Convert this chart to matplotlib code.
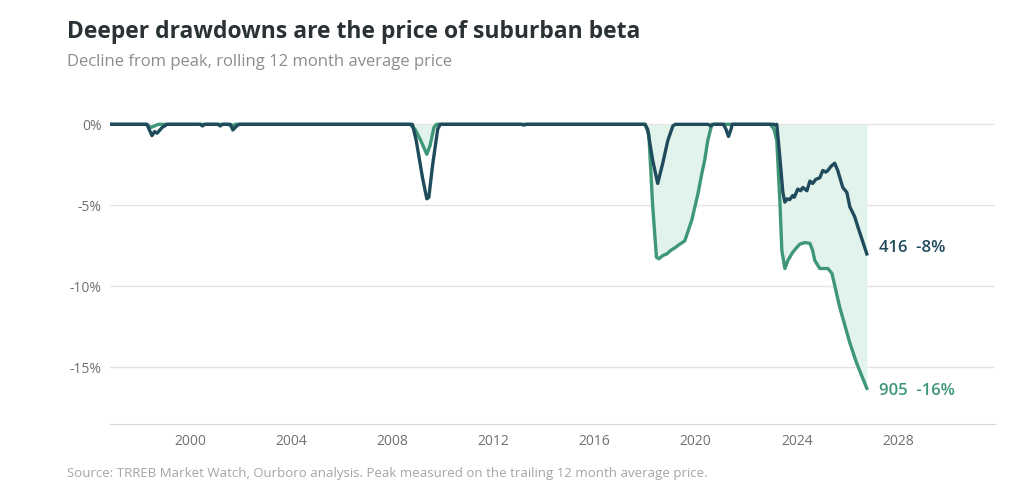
import matplotlib
matplotlib.use("Agg")
import matplotlib.pyplot as plt
from matplotlib.ticker import FuncFormatter

plt.rcParams['font.family'] = ['Open Sans', 'DejaVu Sans']

# drawdown from peak (%), 416 area code
dark_x = [1996.9, 1998.3, 1998.5, 1998.6, 1998.7, 1998.9, 1999.1, 2000.4, 2000.5, 2000.6,
          2001.1, 2001.2, 2001.3, 2001.6, 2001.7, 2001.85, 2001.95, 2008.8, 2008.95, 2009.2,
          2009.37, 2009.45, 2009.6, 2009.8, 2009.9, 2013.1, 2013.2, 2013.3, 2018.0, 2018.1,
          2018.3, 2018.5, 2018.7, 2018.9, 2019.1, 2019.2, 2020.5, 2020.6, 2020.7, 2021.1,
          2021.2, 2021.3, 2021.4, 2021.45, 2023.1, 2023.15, 2023.21, 2023.3, 2023.45, 2023.53,
          2023.62, 2023.72, 2023.84, 2023.9, 2024.04, 2024.15, 2024.24, 2024.4, 2024.52, 2024.63,
          2024.75, 2024.91, 2025.03, 2025.15, 2025.23, 2025.35, 2025.5, 2025.62, 2025.82, 2025.98,
          2026.1, 2026.29, 2026.41, 2026.77]
dark_y = [0, 0, -0.7, -0.45, -0.55, -0.2, 0, 0, -0.1, 0,
          0, -0.1, 0, 0, -0.35, -0.1, 0, 0, -1.0, -3.3,
          -4.6, -4.5, -2.5, -0.3, 0, 0, -0.05, 0, 0, -0.3,
          -2.2, -3.65, -2.4, -1.0, -0.1, 0, 0, -0.1, 0, 0,
          -0.3, -0.75, -0.3, 0, 0, -0.05, 0, -1.5, -4.2, -4.8,
          -4.6, -4.65, -4.4, -4.5, -4.0, -4.1, -3.9, -4.1, -3.5, -3.65,
          -3.4, -3.3, -2.85, -2.95, -2.85, -2.6, -2.4, -2.85, -3.9, -4.2,
          -5.1, -5.7, -6.3, -8.0]

# drawdown from peak (%), 905 area code
green_x = [1996.9, 1998.3, 1998.45, 1998.6, 1998.75, 2001.5, 2001.65, 2001.8, 2008.7, 2008.9,
           2009.1, 2009.37, 2009.5, 2009.65, 2009.75, 2018.0, 2018.15, 2018.3, 2018.45, 2018.55,
           2018.7, 2018.86, 2019.0, 2019.2, 2019.37, 2019.57, 2019.7, 2019.85, 2020.09, 2020.25,
           2020.36, 2020.48, 2020.64, 2022.95, 2023.1, 2023.21, 2023.33, 2023.41, 2023.53, 2023.65,
           2023.84, 2024.0, 2024.12, 2024.32, 2024.52, 2024.63, 2024.71, 2024.91, 2025.23, 2025.39,
           2025.7, 2026.1, 2026.37, 2026.77]
green_y = [0, 0, -0.2, -0.1, 0, 0, -0.1, 0, 0, -0.3,
           -0.9, -1.85, -1.3, -0.2, 0, 0, -0.6, -5.0, -8.2, -8.3,
           -8.1, -8.0, -7.8, -7.6, -7.4, -7.2, -6.6, -5.9, -4.3, -3.0,
           -2.2, -1.0, 0, 0, -0.3, -1.0, -4.7, -7.8, -8.9, -8.4,
           -7.9, -7.6, -7.4, -7.3, -7.35, -7.8, -8.4, -8.9, -8.9, -9.2,
           -11.3, -13.5, -14.75, -16.3]

yticks = [0, -5, -10, -15]
xticks = [2000, 2004, 2008, 2012, 2016, 2020, 2024, 2028]

dark_col = "#1f4b5c"
green_col = "#3e9877"
grid_col = "#e6e4dc"
tick_col = "#707070"

fig = plt.figure(figsize=(10.24, 4.92), dpi=100)
ax = fig.add_axes([0.1074, 0.1382, 0.8643, 0.6585])

ax.fill_between(green_x, 0, green_y, color="#e2f3ec", lw=0, zorder=1)
ax.plot(green_x, green_y, color=green_col, lw=2.4, zorder=3, solid_joinstyle="round")
ax.plot(dark_x, dark_y, color=dark_col, lw=2.4, zorder=4, solid_joinstyle="round")

ax.annotate("416  -8%", (dark_x[-1], dark_y[-1]), xytext=(9, 4), textcoords="offset points",
            color=dark_col, fontsize=12, fontweight="semibold", va="center", ha="left")
ax.annotate("905  -16%", (green_x[-1], green_y[-1]), xytext=(9, -2), textcoords="offset points",
            color=green_col, fontsize=12, fontweight="semibold", va="center", ha="left")

ax.set_xlim(1996.84, 2031.84)
ax.set_ylim(-18.5, 1.5)
ax.set_yticks(yticks)
ax.set_xticks(xticks)
ax.yaxis.set_major_formatter(FuncFormatter(lambda v, p: f"{v:.0f}%"))
for y in yticks:
    ax.axhline(y, color=grid_col, lw=1, zorder=0)
for s in ["top", "right", "left"]:
    ax.spines[s].set_visible(False)
ax.spines["bottom"].set_color("#d9d7cf")
ax.tick_params(length=0, colors=tick_col, labelsize=10)
ax.tick_params(axis="x", pad=7)
ax.tick_params(axis="y", pad=6)

fig.text(0.065, 0.935, "Deeper drawdowns are the price of suburban beta", fontsize=16.5,
         fontweight="bold", color="#2a3236", va="center")
fig.text(0.065, 0.874, "Decline from peak, rolling 12 month average price", fontsize=12,
         color="#8c8c8c", va="center")
fig.text(0.065, 0.038, "Source: TRREB Market Watch, Ourboro analysis. Peak measured on the trailing 12 month average price.",
         fontsize=9.5, color="#a5a5a5", va="center")

fig.savefig("out.png", dpi=100, facecolor="white")
